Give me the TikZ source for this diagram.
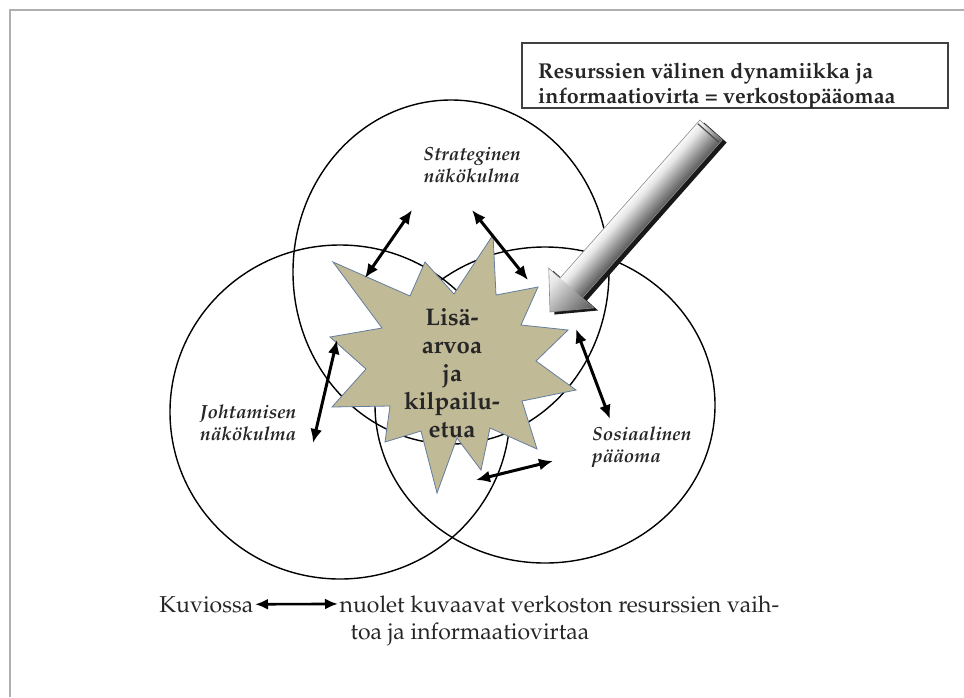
\documentclass[tikz,border=0pt]{standalone}
\usepackage[T1]{fontenc}
\usepackage{mathpazo}
\usetikzlibrary{arrows.meta}

\definecolor{framegray}{RGB}{175,175,175}
\definecolor{startan}{RGB}{192,186,151}
\definecolor{staredge}{RGB}{100,125,158}
\definecolor{ink}{RGB}{38,38,38}

% metallic look across the width of the big arrow (bottom = shadow side)
\pgfdeclareverticalshading{metalband}{100bp}{color(0bp)=(black); color(14bp)=(black!80); color(40bp)=(black!45); color(64bp)=(black!10); color(78bp)=(white); color(92bp)=(white); color(100bp)=(black!35)}

\begin{document}
\begin{tikzpicture}[x=1pt,y=-1pt,
  ring/.style={draw=black, line width=1.4},
  dbl/.style={{Latex[length=14pt,width=12pt]}-{Latex[length=14pt,width=12pt]}, line width=3, black},
  capdbl/.style={{Latex[length=13pt,width=11pt]}-{Latex[length=13pt,width=11pt]}, line width=2.6, black},
  tag/.style={font=\fontsize{19}{22}\selectfont\bfseries\itshape, text=ink, inner sep=0},
  captext/.style={font=\fontsize{23}{27}\selectfont, text=ink, inner sep=1.5pt},
  startext/.style={font=\fontsize{24}{28}\selectfont\bfseries, text=ink, align=center, inner sep=0},
  boxtext/.style={font=\fontsize{21.5}{26}\selectfont\bfseries, text=ink, inner sep=0, anchor=base west}
]
\useasboundingbox (0,0) rectangle (964,697);

% page frame (top and left edges)
\draw[framegray, line width=2] (964,10) -- (10,10) -- (10,697);

% the three overlapping perspectives
\draw[ring] (451,272) ellipse [x radius=158pt, y radius=172pt];
\draw[ring] (340,412) ellipse [x radius=170pt, y radius=167pt];
\draw[ring] (545,405) ellipse [x radius=170pt, y radius=158pt];

% the burst in the middle
\filldraw[fill=startan, draw=staredge, line width=0.8]
  (333,262) -- (410,296) -- (425,262) -- (454,294) -- (493,235) -- (496,295)
  -- (538,287) -- (521,325) -- (568,330) -- (536,361) -- (576,390) -- (522,401)
  -- (537,449) -- (490,428) -- (481,470) -- (457,438) -- (437,493) -- (421,431)
  -- (385,442) -- (390,406) -- (332,407) -- (366,369) -- (330,337) -- (382,328)
  -- cycle;
\node[startext] (gain) at (452,373) {Lisä-\\arvoa\\ja\\kilpailu-\\etua};

% labels of the perspectives
\node[tag, align=center] (strat) at (472,165) {Strateginen\\näkökulma};
\node[tag, align=left, anchor=west] (lead) at (200,423) {Johtamisen\\näkökulma};
\node[tag, align=left, anchor=west] (soc) at (592,447) {Sosiaalinen\\pääoma};

% exchange arrows
\coordinate (a1s) at (365,278); \coordinate (a1e) at (412,210);
\coordinate (a2s) at (472,210); \coordinate (a2e) at (528,280);
\coordinate (a3s) at (337,340); \coordinate (a3e) at (313,443);
\coordinate (a4s) at (576,329); \coordinate (a4e) at (610,419);
\coordinate (a5s) at (476,480); \coordinate (a5e) at (553,461);
\draw[dbl] (a1s) -- (a1e);
\draw[dbl] (a2s) -- (a2e);
\draw[dbl] (a3s) -- (a3e);
\draw[dbl] (a4s) -- (a4e);
\draw[dbl] (a5s) -- (a5e);

% title box
\draw[black!75, line width=1.6] (522,43) rectangle (948,108);
\begin{scope}
  \clip (523,44) rectangle (947,107);
  \node[boxtext] (title1) at (538,78) {Resurssien välinen dynamiikka ja};
  \node[boxtext] (title2) at (538,103) {informaatiovirta = verkostopääomaa};
\end{scope}

% big metallic arrow pointing at the burst
\begin{scope}[transform canvas={shift={(550,312)}, rotate=48.5}]
  \fill[black!90, shift={(1,5)}]
    (0,0) -- (32,-30) -- (32,-15) -- (243,-15) -- (243,15) -- (32,15) -- (32,30) -- cycle;
  \shade[shading=metalband] (30,-15) rectangle (243,15);
  \shade[shading=metalband] (0,0) -- (32,-30) -- (32,30) -- cycle;
  \draw[black!45, line width=0.6]
    (0,0) -- (32,-30) -- (32,-15) -- (243,-15) -- (243,15) -- (32,15) -- (32,30) -- cycle;
  \draw[black!70, line width=1.2] (239,-14) -- (239,14);
\end{scope}

% caption
\node[captext, anchor=base east] (kuv) at (255,612) {Kuviossa};
\node[captext, anchor=base west] (nuo) at (338,612) {nuolet kuvaavat verkoston resurssien vaih-};
\node[captext, anchor=base] (toa) at (470,639) {toa ja informaatiovirtaa};
\draw[capdbl] (kuv.east) -- (nuo.west);
\end{tikzpicture}
\end{document}
